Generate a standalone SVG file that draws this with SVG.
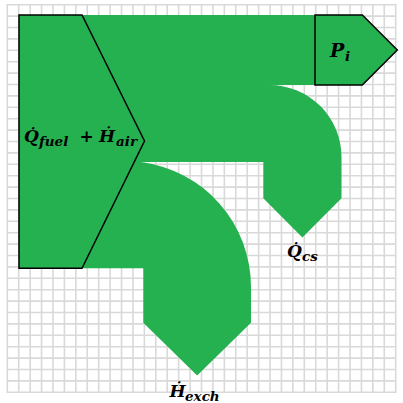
<svg xmlns="http://www.w3.org/2000/svg" width="403" height="403" viewBox="0 0 403 403">
<style>
.grid{stroke:#d9d9d9;stroke-width:1.6;fill:none}
.flow{fill:#25b150}
.node{fill:#25b150;stroke:#000;stroke-width:1.5;stroke-linejoin:miter}
.m{font-family:"DejaVu Serif","Liberation Serif",serif;font-weight:bold;font-style:italic;font-size:17px;fill:#000}
.s{font-size:13.5px}
.up{font-style:normal}
</style>
<rect width="403" height="403" fill="#fff"/>
<path class="grid" d="M7.3 4V393M18.72 4V393M30.15 4V393M41.57 4V393M52.99 4V393M64.42 4V393M75.84 4V393M87.26 4V393M98.69 4V393M110.11 4V393M121.54 4V393M132.96 4V393M144.38 4V393M155.81 4V393M167.23 4V393M178.65 4V393M190.08 4V393M201.5 4V393M212.92 4V393M224.35 4V393M235.77 4V393M247.19 4V393M258.62 4V393M270.04 4V393M281.46 4V393M292.89 4V393M304.31 4V393M315.73 4V393M327.16 4V393M338.58 4V393M350.01 4V393M361.43 4V393M372.85 4V393M384.28 4V393M395.7 4V393
M6.5 4.7H396.5M6.5 16.1H396.5M6.5 27.5H396.5M6.5 38.9H396.5M6.5 50.3H396.5M6.5 61.7H396.5M6.5 73.1H396.5M6.5 84.5H396.5M6.5 95.9H396.5M6.5 107.3H396.5M6.5 118.7H396.5M6.5 130.1H396.5M6.5 141.5H396.5M6.5 152.9H396.5M6.5 164.3H396.5M6.5 175.7H396.5M6.5 187.1H396.5M6.5 198.5H396.5M6.5 209.9H396.5M6.5 221.3H396.5M6.5 232.7H396.5M6.5 244.1H396.5M6.5 255.5H396.5M6.5 266.9H396.5M6.5 278.3H396.5M6.5 289.7H396.5M6.5 301.1H396.5M6.5 312.5H396.5M6.5 323.9H396.5M6.5 335.3H396.5M6.5 346.7H396.5M6.5 358.1H396.5M6.5 369.5H396.5M6.5 380.9H396.5M6.5 392.3H396.5"/>
<g id="connectors">
<path class="flow" d="M19 15H316V85H269.5A72 72 0 0 1 341.5 157V198.3L302.4 237.4L263.3 198.3V162H141A126 126 0 0 1 251 287V322.7L197.15 375.5L143.3 322.7V268.3H19Z"/>
</g>
<g id="source">
<path class="node" d="M19 15H82L144.5 141L82 268.3H19Z"/>
<text class="m" y="142"><tspan x="24">Q̇</tspan><tspan class="s" x="39" y="146">fuel</tspan><tspan class="up" x="79.5" y="142">+</tspan><tspan x="99" y="142">Ḣ</tspan><tspan class="s" x="116" y="146">air</tspan></text>
</g>
<g id="pi">
<path class="node" d="M315 15H362.3L397.3 50L362.3 85H315Z"/>
<text class="m" y="57"><tspan x="330" style="font-size:19px">P</tspan><tspan class="s" x="345" y="61">i</tspan></text>
</g>
<g id="qcs">
<text class="m" y="257"><tspan x="287">Q̇</tspan><tspan class="s" x="302" y="261">cs</tspan></text>
</g>
<g id="hexch">
<text class="m" y="397"><tspan x="169.5">Ḣ</tspan><tspan class="s" x="185" y="400.5">exch</tspan></text>
</g>
</svg>
